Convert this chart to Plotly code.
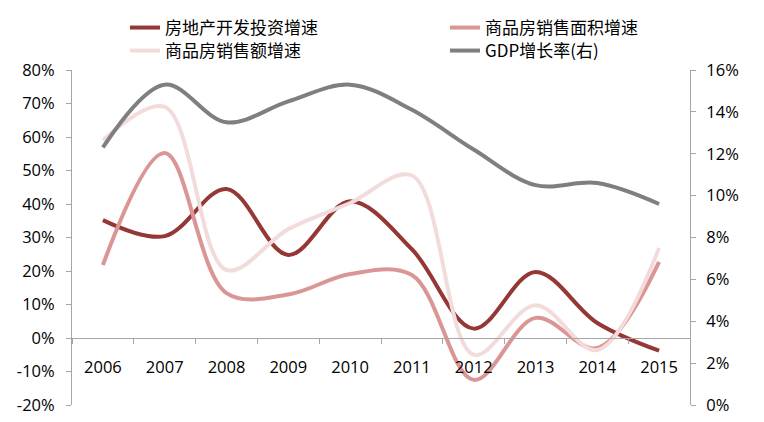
import plotly.graph_objects as go

years = ["2006", "2007", "2008", "2009", "2010", "2011", "2012", "2013", "2014", "2015"]
invest = [35.2, 30.4, 44.5, 24.8, 40.8, 26.5, 2.8, 19.7, 4.5, -3.8]
area = [21.8, 55.2, 13.4, 13.0, 19.1, 18.8, -12.5, 6.0, -3.0, 22.7]
sales = [59.0, 69.0, 20.3, 32.5, 40.3, 48.5, -5.0, 9.8, -3.6, 26.9]
gdp = [12.3, 15.3, 13.5, 14.5, 15.3, 14.1, 12.2, 10.5, 10.6, 9.6]

left_ticks = [-20, -10, 0, 10, 20, 30, 40, 50, 60, 70, 80]
right_ticks = [0, 2, 4, 6, 8, 10, 12, 14, 16]

names = ["房地产开发投资增速", "商品房销售面积增速", "商品房销售额增速", "GDP增长率(右)"]
colors = ["#953735", "#D99694", "#F2DCDB", "#7F7F7F"]

fig = go.Figure()
series = [invest, area, sales]
legs = ["legend", "legend2", "legend3"]
for i, s in enumerate(series):
    fig.add_trace(go.Scatter(x=years, y=s, name=names[i], mode="lines",
                             line=dict(color=colors[i], width=4, shape="spline", smoothing=1.0),
                             legend=legs[i]))
fig.add_trace(go.Scatter(x=years, y=gdp, name=names[3], mode="lines", yaxis="y2",
                         line=dict(color=colors[3], width=4, shape="spline", smoothing=1.0),
                         legend="legend4"))

W, H = 756, 414
tickfont = dict(family="Open Sans, Liberation Sans, sans-serif", size=16.5, color="black")
legfont = dict(family="Noto Sans CJK SC", size=17, color="black")
axcol = "#A6A6A6"


def leg(xpx, ypx):
    return dict(x=xpx / W, y=1 - ypx / H, xref="container", yref="container",
                xanchor="left", yanchor="top", font=legfont, bgcolor="rgba(0,0,0,0)",
                tracegroupgap=0, itemwidth=30)


fig.update_layout(
    width=W, height=H,
    margin=dict(l=64, r=74, t=62, b=17, autoexpand=False),
    paper_bgcolor="white", plot_bgcolor="white",
    xaxis=dict(type="category", range=[-0.5, 9.5], anchor="free", position=0.2,
               showline=True, linecolor=axcol, linewidth=1, tickangle=0,
               ticks="outside", ticklen=5, tickcolor=axcol, tickson="boundaries",
               ticklabelstandoff=14,
               showgrid=False, tickfont=tickfont, zeroline=False),
    yaxis=dict(range=[-20, 80], tickvals=left_ticks, ticktext=[f"{v}%" for v in left_ticks],
               showgrid=False, zeroline=False, ticklabelstandoff=8,
               showline=True, linecolor=axcol, ticks="outside", ticklen=5, tickcolor=axcol,
               tickfont=tickfont),
    yaxis2=dict(range=[0, 16], tickvals=right_ticks, ticktext=[f"{v}%" for v in right_ticks],
                overlaying="y", side="right", ticklabelstandoff=7,
                showgrid=False, zeroline=False, showline=True, linecolor=axcol,
                ticks="outside", ticklen=5, tickcolor=axcol, tickfont=tickfont),
    legend=leg(117, 2),
    legend2=leg(437, 2),
    legend3=leg(117, 25),
    legend4=leg(437, 25),
    showlegend=True,
)

fig.write_html("out.html")
